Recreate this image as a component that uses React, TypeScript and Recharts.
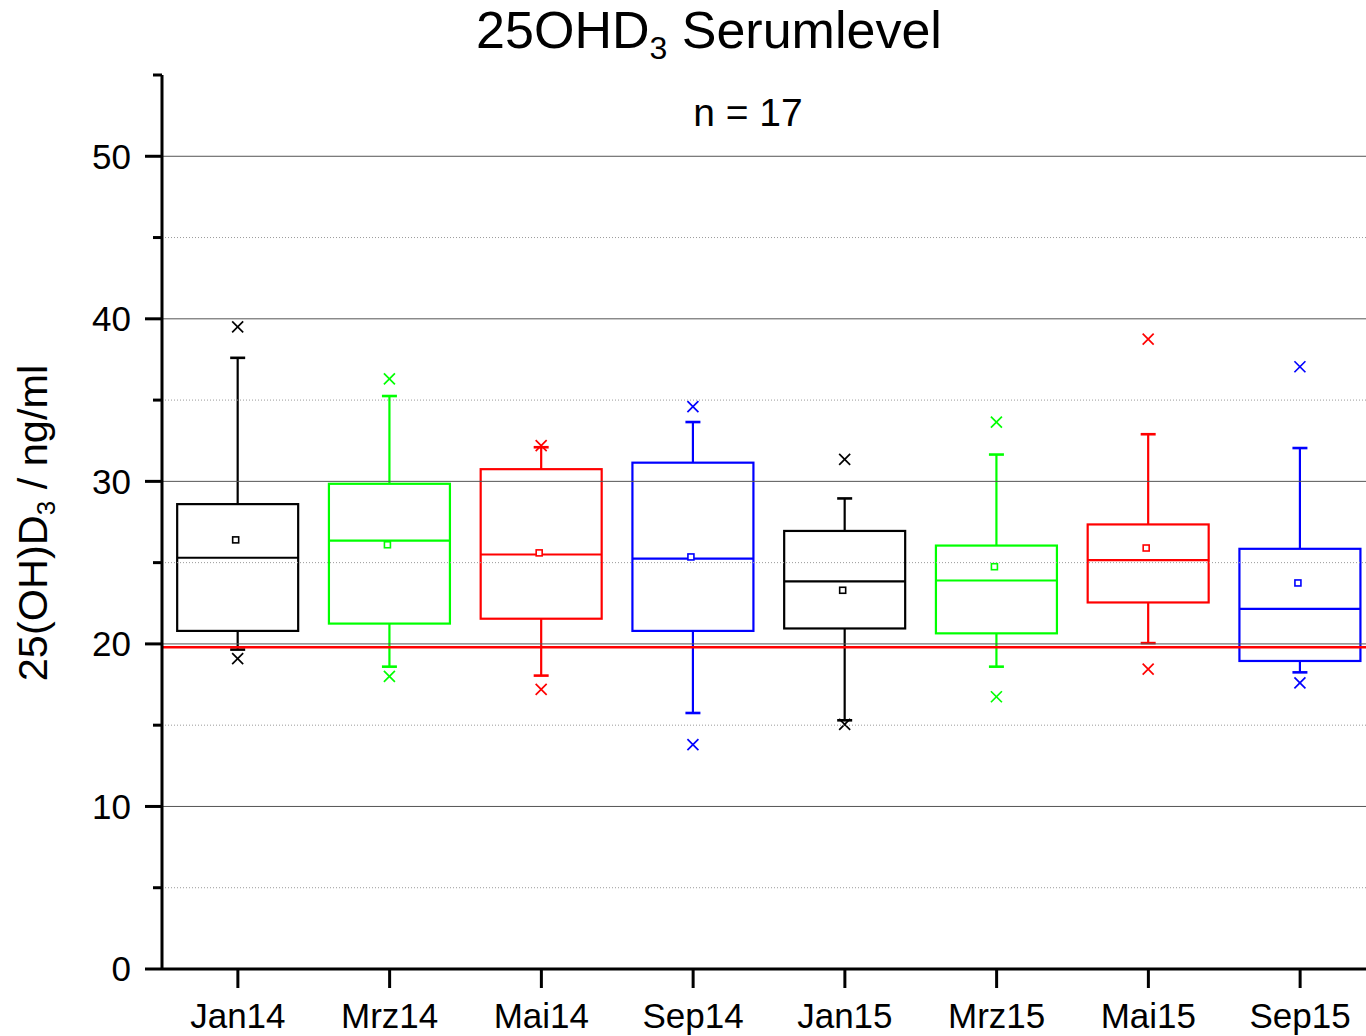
import { Bar, BarChart, ReferenceLine, XAxis, YAxis } from "recharts";

const categories = ["Jan14", "Mrz14", "Mai14", "Sep14", "Jan15", "Mrz15", "Mai15", "Sep15"];
const boxColors = ["#000000", "#00ff00", "#ff0000", "#0000ff", "#000000", "#00ff00", "#ff0000", "#0000ff"];

// values (ng/ml)
const minValues = [19.1, 18.0, 17.2, 13.8, 15.05, 16.75, 18.45, 17.6];
const whiskerLow = [19.65, 18.6, 18.05, 15.75, 15.3, 18.6, 20.05, 18.25];
const q1Values = [20.8, 21.25, 21.55, 20.8, 20.95, 20.65, 22.55, 18.95];
const medianValues = [25.3, 26.35, 25.5, 25.25, 23.85, 23.9, 25.15, 22.15];
const meanValues = [26.4, 26.1, 25.6, 25.35, 23.3, 24.75, 25.9, 23.75];
const q3Values = [28.6, 29.85, 30.75, 31.15, 26.95, 26.05, 27.35, 25.85];
const whiskerHigh = [37.6, 35.25, 32.1, 33.65, 28.95, 31.65, 32.9, 32.05];
const maxValues = [39.5, 36.3, 32.2, 34.6, 31.35, 33.65, 38.75, 37.05];

const threshold = 19.8;
const yTicks = [0, 5, 10, 15, 20, 25, 30, 35, 40, 45, 50, 55];
const majorGrid = [10, 20, 30, 40, 50];
const minorGrid = [5, 15, 25, 35, 45];

const FONT = "'Liberation Sans', Arial, sans-serif";

const data = categories.map((name, i) => ({
  name,
  range: [minValues[i], maxValues[i]],
  min: minValues[i],
  lo: whiskerLow[i],
  q1: q1Values[i],
  median: medianValues[i],
  mean: meanValues[i],
  q3: q3Values[i],
  hi: whiskerHigh[i],
  max: maxValues[i],
  color: boxColors[i],
}));

function BoxShape(props: any) {
  const { x, y, width, height } = props;
  const d = props.payload ?? props;
  const top = Math.min(y, y + height);
  const h = Math.abs(height);
  const per = h / (d.max - d.min);
  const toY = (v: number) => top + (d.max - v) * per;
  const cx = x + width / 2;
  const c = d.color;
  const cap = 7.5;
  const xm = 5.5;
  const cross = (v: number) => (
    <g>
      <line x1={cx - xm} y1={toY(v) - xm} x2={cx + xm} y2={toY(v) + xm} stroke={c} strokeWidth={1.7} />
      <line x1={cx - xm} y1={toY(v) + xm} x2={cx + xm} y2={toY(v) - xm} stroke={c} strokeWidth={1.7} />
    </g>
  );
  return (
    <g>
      <line x1={cx} y1={toY(d.hi)} x2={cx} y2={toY(d.q3)} stroke={c} strokeWidth={2.2} />
      <line x1={cx} y1={toY(d.q1)} x2={cx} y2={toY(d.lo)} stroke={c} strokeWidth={2.2} />
      <line x1={cx - cap} y1={toY(d.hi)} x2={cx + cap} y2={toY(d.hi)} stroke={c} strokeWidth={2.6} />
      <line x1={cx - cap} y1={toY(d.lo)} x2={cx + cap} y2={toY(d.lo)} stroke={c} strokeWidth={2.6} />
      <rect
        x={x}
        y={toY(d.q3)}
        width={width}
        height={toY(d.q1) - toY(d.q3)}
        fill="none"
        stroke={c}
        strokeWidth={2.2}
      />
      <line x1={x} y1={toY(d.median)} x2={x + width} y2={toY(d.median)} stroke={c} strokeWidth={2.2} />
      <rect x={cx - 5} y={toY(d.mean) - 3} width={6} height={6} fill="#fff" stroke={c} strokeWidth={1.6} />
      {cross(d.max)}
      {cross(d.min)}
    </g>
  );
}

function YTick(props: any) {
  const { x, y, payload } = props;
  const major = payload.value % 10 === 0;
  return (
    <g>
      <line x1={x - (major ? 17 : 9)} y1={y} x2={x} y2={y} stroke="#000" strokeWidth={3} />
      {major && (
        <text x={x - 31} y={y} dy="0.355em" textAnchor="end" fontSize={35} fontFamily={FONT} fill="#000">
          {payload.value}
        </text>
      )}
    </g>
  );
}

function XTick(props: any) {
  const { x, y, payload } = props;
  return (
    <text x={x} y={y} dy={40} textAnchor="middle" fontSize={35} fontFamily={FONT} fill="#000">
      {payload.value}
    </text>
  );
}

export default function App() {
  return (
    <div
      style={{
        position: "absolute",
        left: 0,
        top: 0,
        width: 1366,
        height: 1036,
        overflow: "hidden",
        background: "#fff",
      }}
    >
      <BarChart
        width={1378}
        height={1036}
        data={data}
        margin={{ top: 75, right: 2, bottom: 0, left: 0 }}
        barCategoryGap="10%"
      >
        {minorGrid.map((v) => (
          <ReferenceLine key={"m" + v} y={v} stroke="#9a9a9a" strokeWidth={1} strokeDasharray="1 2" />
        ))}
        {majorGrid.map((v) => (
          <ReferenceLine key={"M" + v} y={v} stroke="#555" strokeWidth={1} />
        ))}
        <ReferenceLine y={threshold} stroke="#ff0000" strokeWidth={2.5} />
        <XAxis
          dataKey="name"
          height={67}
          tickSize={19}
          tickMargin={0}
          tickLine={{ stroke: "#000", strokeWidth: 3 }}
          axisLine={{ stroke: "#000", strokeWidth: 3 }}
          tick={<XTick />}
          interval={0}
        />
        <YAxis
          type="number"
          domain={[0, 55]}
          ticks={yTicks}
          interval={0}
          width={162}
          tickSize={0}
          tickMargin={0}
          tickLine={false}
          axisLine={{ stroke: "#000", strokeWidth: 3 }}
          tick={<YTick />}
        />
        <Bar dataKey="range" shape={BoxShape} isAnimationActive={false} />
      </BarChart>
      <svg
        width={1366}
        height={1036}
        style={{ position: "absolute", left: 0, top: 0, pointerEvents: "none" }}
      >
        <text x={709} y={48} textAnchor="middle" fontSize={52} fontFamily={FONT} fill="#000">
          25OHD
          <tspan fontSize={32} dy={11}>3</tspan>
          <tspan dy={-11}>{" Serumlevel"}</tspan>
        </text>
        <text x={748} y={126} textAnchor="middle" fontSize={39} fontFamily={FONT} fill="#000">
          n = 17
        </text>
        <text
          x={47}
          y={523}
          transform="rotate(-90 47 523)"
          textAnchor="middle"
          fontSize={41.5}
          fontFamily={FONT}
          fill="#000"
        >
          25(OH)D
          <tspan fontSize={26} dy={8}>3</tspan>
          <tspan dy={-8}>{" / ng/ml"}</tspan>
        </text>
      </svg>
    </div>
  );
}
